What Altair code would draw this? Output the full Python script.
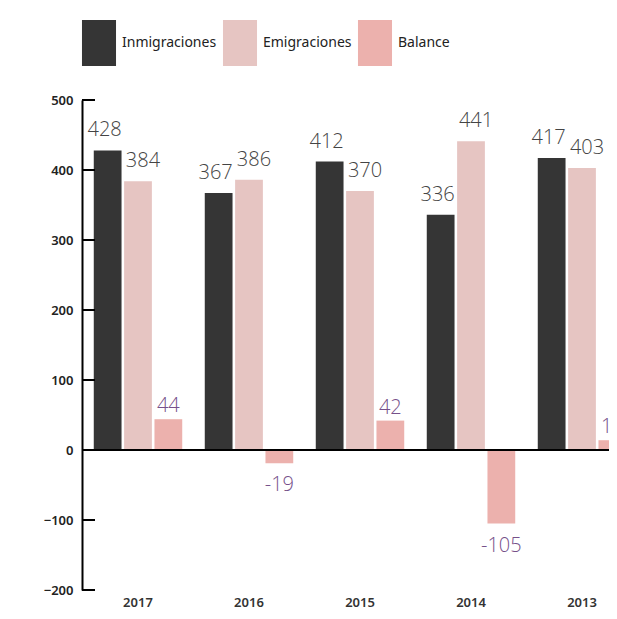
import altair as alt
import pandas as pd

years = ["2017", "2016", "2015", "2014", "2013"]
series = ["Inmigraciones", "Emigraciones", "Balance"]
inmigraciones = [428, 367, 412, 336, 417]
emigraciones = [384, 386, 370, 441, 403]
balance = [44, -19, 42, -105, 14]
y_ticks = [-200, -100, 0, 100, 200, 300, 400, 500]
colors = ["#353535", "#e6c5c2", "#ecb1ad"]

rows = []
for i, yr in enumerate(years):
    rows.append({"year": yr, "serie": "Inmigraciones", "value": inmigraciones[i]})
    rows.append({"year": yr, "serie": "Emigraciones", "value": emigraciones[i]})
    rows.append({"year": yr, "serie": "Balance", "value": balance[i]})
df = pd.DataFrame(rows)
df["label"] = df["value"].astype(str)
ticks_df = pd.DataFrame({"value": y_ticks})
zero_df = pd.DataFrame({"value": [0]})

W, H = 527, 490

x = alt.X("year:N", sort=years,
          scale=alt.Scale(range=[0, 556], paddingInner=0.203, paddingOuter=0.106),
          axis=alt.Axis(title=None, domain=False, ticks=False, labelAngle=0,
                        labelPadding=6, labelFontSize=13, labelFont="Noto Sans",
                        labelFontWeight=600, labelColor="#333333"))
xo = alt.XOffset("serie:N", sort=series, scale=alt.Scale(paddingInner=0.085, paddingOuter=0))
y_axis = alt.Axis(title=None, values=y_ticks, tickSize=0, grid=False,
                  domain=True, domainColor="#000000", domainWidth=2,
                  labelPadding=9, labelFontSize=13, labelFont="Noto Sans",
                  labelFontWeight=600, labelColor="#222222")
y = alt.Y("value:Q", scale=alt.Scale(domain=[-200, 500], nice=False), axis=y_axis)

base = alt.Chart(df)

bars = base.mark_bar().encode(
    x=x, xOffset=xo, y=y,
    color=alt.Color("serie:N", sort=series,
                    scale=alt.Scale(domain=series, range=colors),
                    legend=alt.Legend(title=None, orient="none", legendX=-6, legendY=-80,
                                      direction="horizontal", columns=3,
                                      symbolType="M-0.74,-1H0.74V1H-0.74Z",
                                      symbolSize=2116, symbolStrokeWidth=0,
                                      labelFont="Noto Sans", labelFontSize=14,
                                      labelColor="#222222", labelOffset=0,
                                      columnPadding=0, padding=0)),
)

txt_common = dict(font="Open Sans", fontSize=20, fontWeight=300)

lab_in = base.transform_filter(alt.datum.serie == "Inmigraciones").mark_text(
    baseline="alphabetic", dy=-14, dx=-3, color="#444444", **txt_common
).encode(x=x, xOffset=xo, y=y, text="label:N")

lab_em = base.transform_filter(alt.datum.serie == "Emigraciones").mark_text(
    baseline="alphabetic", dy=-14, dx=5, color="#444444", **txt_common
).encode(x=x, xOffset=xo, y=y, text="label:N")

lab_bp = base.transform_filter((alt.datum.serie == "Balance") & (alt.datum.value >= 0)).mark_text(
    baseline="alphabetic", dy=-7, color="#76508a", **txt_common
).encode(x=x, xOffset=xo, y=y, text="label:N")

lab_bn = base.transform_filter((alt.datum.serie == "Balance") & (alt.datum.value < 0)).mark_text(
    baseline="top", dy=12, color="#76508a", **txt_common
).encode(x=x, xOffset=xo, y=y, text="label:N")

zero = alt.Chart(zero_df).mark_rule(color="#000000", strokeWidth=2).encode(y=y)

tick_marks = alt.Chart(ticks_df).mark_rule(color="#000000", strokeWidth=2).encode(
    y=y, x=alt.value(0), x2=alt.value(13),
)

chart = alt.layer(bars, lab_in, lab_em, lab_bp, lab_bn, zero, tick_marks).properties(
    width=W, height=H,
    autosize=alt.AutoSizeParams(type="none"),
    padding={"left": 74, "top": 92, "right": 0, "bottom": 21},
).configure(background="#ffffff").configure_view(stroke=None)

chart.save("out.html", embed_options={"renderer": "svg", "actions": False})
